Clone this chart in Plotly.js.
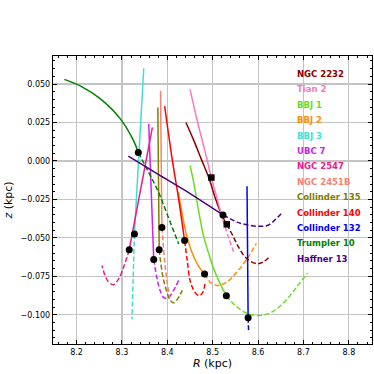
<!DOCTYPE html>
<html>
<head>
<meta charset="utf-8">
<script src="https://cdn.plot.ly/plotly-3.0.1.min.js"></script>
<style>
  html, body { margin: 0; padding: 0; background: #fff; }
  #plot { width: 374px; height: 374px; }
</style>
</head>
<body>
<div id="plot"></div>
<script>
// cluster names and colours (legend order)
var names = ['NGC 2232', 'Tian 2', 'BBJ 1', 'BBJ 2', 'BBJ 3', 'UBC 7', 'NGC 2547',
  'NGC 2451B', 'Collinder 135', 'Collinder 140', 'Collinder 132', 'Trumpler 10', 'Haffner 13'];
var colors = ['#8b0000', '#ff77bb', '#66dd22', '#ff8c00', '#40e0d0', '#cc22ee', '#ee1a8a',
  '#fa8072', '#808000', '#ff0000', '#0000ff', '#008000', '#4b0082'];

// solid part of each orbit (R, z in kpc)
var solidR = [
  [8.441, 8.458, 8.475, 8.492, 8.506, 8.520, 8.531],
  [8.450, 8.466, 8.482, 8.497, 8.510, 8.522],
  [8.450, 8.458, 8.468, 8.480, 8.492, 8.502, 8.512, 8.520, 8.530],
  [8.424, 8.433, 8.443, 8.455, 8.468, 8.482],
  [8.348, 8.3275],
  [8.359, 8.370],
  [8.367, 8.316],
  [8.385, 8.388],
  [8.379, 8.382],
  [8.394, 8.411, 8.425, 8.438],
  [8.5756, 8.578],
  [8.173, 8.210, 8.252, 8.296, 8.325, 8.336],
  [8.314, 8.380, 8.450, 8.5226]
];
var solidZ = [
  [0.025, 0.0135, 0.001, -0.0115, -0.0245, -0.0353, -0.0412],
  [0.0465, 0.026, 0.0075, -0.0108, -0.025, -0.038],
  [-0.003, -0.014, -0.031, -0.049, -0.061, -0.070, -0.077, -0.082, -0.0876],
  [-0.020, -0.035, -0.049, -0.060, -0.068, -0.0735],
  [0.0602, -0.0475],
  [0.024, -0.064],
  [0.0218, -0.0577],
  [0.0456, -0.0433],
  [0.0348, -0.0577],
  [0.0356, 0.0005, -0.025, -0.0518],
  [-0.0165, -0.1019],
  [0.053, 0.0485, 0.0405, 0.0275, 0.0135, 0.0055],
  [0.0031, -0.0088, -0.0212, -0.0351]
];

// dashed part of each orbit
var dashR = [
  [8.531, 8.545, 8.557, 8.575, 8.598, 8.612, 8.623],
  [8.522, 8.534, 8.546],
  [8.530, 8.550, 8.575, 8.598, 8.625, 8.650, 8.671, 8.690, 8.709],
  [8.482, 8.495, 8.509, 8.530, 8.550, 8.576, 8.596],
  [8.3275, 8.322],
  [8.370, 8.377, 8.385, 8.393, 8.402, 8.412, 8.425],
  [8.316, 8.305, 8.293, 8.281, 8.270, 8.262, 8.256],
  [8.388, 8.394, 8.399, 8.405],
  [8.382, 8.390, 8.399, 8.405, 8.413, 8.422, 8.433],
  [8.438, 8.444, 8.450, 8.458, 8.466, 8.472, 8.478, 8.483],
  [8.578, 8.579],
  [8.336, 8.358, 8.380, 8.400, 8.425],
  [8.5226, 8.557, 8.580, 8.601, 8.622, 8.638, 8.653]
];
var dashZ = [
  [-0.0412, -0.049, -0.056, -0.0635, -0.0668, -0.0655, -0.0629],
  [-0.038, -0.049, -0.059],
  [-0.0876, -0.094, -0.099, -0.1004, -0.099, -0.094, -0.0874, -0.080, -0.0729],
  [-0.0735, -0.079, -0.0809, -0.079, -0.0733, -0.0635, -0.0537],
  [-0.0475, -0.103],
  [-0.064, -0.076, -0.085, -0.089, -0.089, -0.085, -0.0776],
  [-0.0577, -0.068, -0.0765, -0.0805, -0.0785, -0.074, -0.068],
  [-0.0433, -0.065, -0.0776, -0.089],
  [-0.0577, -0.075, -0.0852, -0.090, -0.0922, -0.090, -0.0841],
  [-0.0518, -0.065, -0.0776, -0.084, -0.087, -0.0874, -0.0855, -0.080],
  [-0.1019, -0.110],
  [0.0055, -0.007, -0.020, -0.035, -0.054],
  [-0.0351, -0.0401, -0.0418, -0.0425, -0.0418, -0.0381, -0.0336]
];

// present-day positions
var nowR = [8.531, 8.497, 8.530, 8.482, 8.3275, 8.370, 8.316, 8.388, 8.382, 8.438, 8.578, 8.336, 8.5226];
var nowZ = [-0.0412, -0.0108, -0.0876, -0.0735, -0.0475, -0.064, -0.0577, -0.0433, -0.0577, -0.0518, -0.1019, 0.0055, -0.0351];
var nowSymbol = ['square', 'square', 'circle', 'circle', 'circle', 'circle', 'circle',
  'circle', 'circle', 'circle', 'circle', 'circle', 'circle'];

var traces = [];
for (var i = 0; i < names.length; i++) {
  traces.push({
    x: solidR[i], y: solidZ[i], type: 'scatter', mode: 'lines',
    line: { color: colors[i], width: 1.5, shape: 'spline', smoothing: 1 }, hoverinfo: 'skip'
  });
  traces.push({
    x: dashR[i], y: dashZ[i], type: 'scatter', mode: 'lines',
    line: { color: colors[i], width: 1.5, dash: '5px,2.5px', shape: 'spline', smoothing: 1 }, hoverinfo: 'skip'
  });
}
for (var i = 0; i < names.length; i++) {
  traces.push({
    x: [nowR[i]], y: [nowZ[i]], type: 'scatter', mode: 'markers',
    marker: { color: 'black', size: nowSymbol[i] === 'square' ? 6.5 : 7, symbol: nowSymbol[i] }
  });
}

var annotations = [];
for (var i = 0; i < names.length; i++) {
  annotations.push({
    xref: 'paper', yref: 'paper', x: 0.7586, y: 0.9375 - i * 0.0535,
    xanchor: 'left', yanchor: 'middle', showarrow: false,
    text: '<b>' + names[i] + '</b>',
    font: { family: 'DejaVu Sans', size: 8.5, color: colors[i] }
  });
}

var axisCommon = {
  showline: true, linecolor: 'black', linewidth: 1.2, mirror: 'allticks',
  ticks: 'inside', ticklen: 4, tickwidth: 1, tickcolor: 'black',
  showgrid: true, gridcolor: '#c4c4c4', gridwidth: 1.2, zeroline: false,
  tickfont: { family: 'DejaVu Sans', size: 8, color: 'black' }
};

var layout = {
  width: 374, height: 374,
  margin: { l: 53, r: 2, t: 56, b: 30 },
  paper_bgcolor: 'white', plot_bgcolor: 'white',
  showlegend: false,
  xaxis: Object.assign({}, axisCommon, {
    range: [8.148, 8.851], dtick: 0.1, tick0: 8.2, tickformat: '.1f',
    minor: { ticks: 'inside', ticklen: 2, dtick: 0.02, tickcolor: 'black', showgrid: false },
    title: { text: '<i>R</i> (kpc)', font: { family: 'DejaVu Sans', size: 11, color: 'black' }, standoff: 3 }
  }),
  yaxis: Object.assign({}, axisCommon, {
    range: [-0.119, 0.0682], dtick: 0.025, tick0: 0, tickformat: '.3f',
    minor: { ticks: 'inside', ticklen: 2, dtick: 0.005, tickcolor: 'black', showgrid: false },
    title: { text: '<i>z</i> (kpc)', font: { family: 'DejaVu Sans', size: 11, color: 'black' }, standoff: 5 }
  }),
  annotations: annotations
};

Plotly.newPlot('plot', traces, layout, { staticPlot: true });
</script>
</body>
</html>
